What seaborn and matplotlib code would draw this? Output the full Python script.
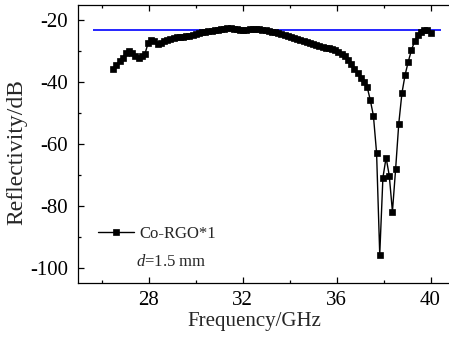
import numpy as np
import pandas as pd
import matplotlib
matplotlib.use("Agg")
import matplotlib.pyplot as plt
import seaborn as sns

# Frequency grid (GHz): 101 points from 26.5 to 40
freq = np.linspace(26.5, 40.0, 101)

reflectivity = [
    -35.6, -34.5, -33.2, -32.0, -30.5, -30.0, -30.5, -31.5, -32.0, -31.5,
    -30.8, -27.3, -26.2, -26.8, -27.7, -27.2, -26.6, -26.2, -26.0, -25.8,
    -25.5, -25.3, -25.2, -25.0, -25.0, -24.8, -24.5, -24.1, -23.9, -23.7,
    -23.5, -23.4, -23.2, -23.0, -22.8, -22.7, -22.6, -22.6, -22.7, -22.8,
    -23.0, -23.1, -23.0, -22.9, -22.8, -22.8, -22.9, -23.0, -23.2, -23.4,
    -23.6, -23.8, -24.1, -24.4, -24.7, -25.0, -25.3, -25.7, -26.0, -26.4,
    -26.8, -27.1, -27.4, -27.7, -28.0, -28.3, -28.6, -28.8, -29.0, -29.3,
    -29.7, -30.2, -30.8, -31.6, -32.8, -34.2, -35.6, -37.0, -38.5, -40.0,
    -41.4, -45.7, -50.8, -62.8, -95.8, -70.9, -64.4, -70.2, -81.9, -68.2,
    -53.4, -43.5, -37.6, -33.3, -29.6, -26.7, -24.8, -23.6, -23.1, -23.2,
    -24.0,
]

series_label = "Co-RGO*1"
thickness_label = r"$d$=1.5 mm"
ref_level = -23.0
ref_start, ref_end = 25.64, 40.45

xticks = [28, 32, 36, 40]
yticks = [-100, -80, -60, -40, -20]

sns.set_style("ticks")
plt.rcParams["font.family"] = ["Liberation Serif", "DejaVu Serif"]
plt.rcParams["mathtext.fontset"] = "custom"
plt.rcParams["mathtext.it"] = "Liberation Serif:italic"
plt.rcParams["mathtext.rm"] = "Liberation Serif"

df = pd.DataFrame({"Frequency": freq, "Reflectivity": reflectivity})

fig = plt.figure(figsize=(4.49, 3.41), dpi=100)
ax = fig.add_axes([78 / 449, 58 / 341, 376 / 449, 278 / 341])

ax.hlines(ref_level, ref_start, ref_end, color="#0000ff", lw=1.2, zorder=3)
sns.lineplot(data=df, x="Frequency", y="Reflectivity", ax=ax, color="black",
             marker="s", markersize=4.5, markeredgecolor="black",
             markeredgewidth=0.5, lw=1.0, label=series_label, sort=False,
             zorder=4)

ax.set_xlim(25, 41)
ax.set_ylim(-105, -15)
ax.set_xticks(xticks)
ax.set_xticklabels([str(t) for t in xticks])
ax.set_yticks(yticks)
ax.set_yticklabels([str(t) for t in yticks])
ax.set_xticks([26, 30, 34, 38], minor=True)
ax.set_yticks([-90, -70, -50, -30], minor=True)

ax.tick_params(which="both", direction="in", top=True, right=False,
               labelsize=15, colors="black", width=0.9)
ax.tick_params(which="major", length=4)
ax.tick_params(which="minor", length=2.5)
ax.tick_params(axis="x", pad=6)
ax.tick_params(axis="y", pad=7)
for s in ["left", "bottom", "top"]:
    ax.spines[s].set_linewidth(0.9)
    ax.spines[s].set_color("black")
ax.spines["right"].set_visible(False)

ax.set_xlabel("Frequency/GHz", fontsize=15)
ax.xaxis.set_label_coords(0.47, -0.105)
ax.set_ylabel("Reflectivity/dB", fontsize=17)
ax.yaxis.set_label_coords(-0.135, 0.47)

leg = ax.legend(loc="upper left", bbox_to_anchor=(0.021, 0.248), frameon=False,
                fontsize=12, handlelength=2.2, handletextpad=0.3,
                borderaxespad=0.3)
ax.text(0.155, 0.0755, thickness_label, transform=ax.transAxes, fontsize=12,
        ha="left", va="center")

fig.savefig("out.png", dpi=100)
